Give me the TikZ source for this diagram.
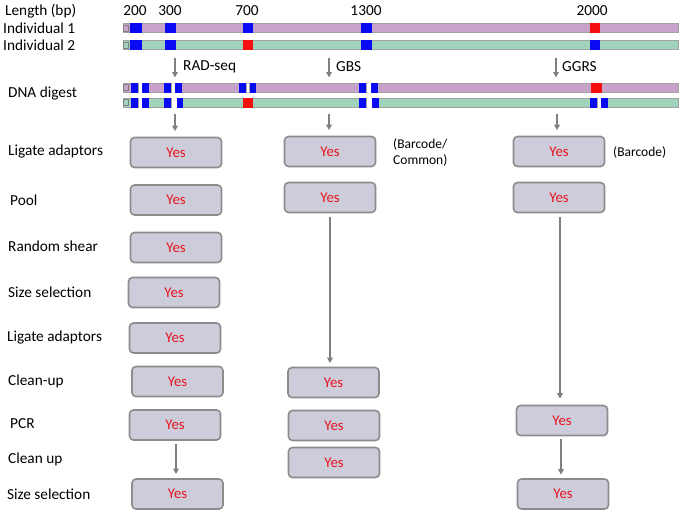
\documentclass[tikz,border=0pt]{standalone}
\usepackage{fontspec}
\setmainfont{Carlito}
\usetikzlibrary{arrows.meta}
\definecolor{pinkbar}{HTML}{C9A2CB}
\definecolor{greenbar}{HTML}{9FD3BB}
\definecolor{barline}{HTML}{A3A3A3}
\definecolor{boxfill}{HTML}{CDCCDB}
\definecolor{boxline}{HTML}{8C8C8C}
\definecolor{yesred}{HTML}{E8141E}
\definecolor{arrowgray}{HTML}{7F7F7F}
\definecolor{cutblue}{HTML}{0A0AF5}
\definecolor{cutred}{HTML}{F51010}
% segment: #1 y-top, #2 y-bottom, #3 x-left, #4 x-right, #5 fill colour
\newcommand\dnaseg[5]{\draw[draw=barline, fill=#5, line width=1pt] (#3,#1) rectangle (#4,#2);}
% cut block: #1 y-top, #2 y-bottom, #3 x-left, #4 x-right, #5 colour
\newcommand\dnacut[5]{\fill[#5] (#3,#1-0.5) rectangle (#4,#2+0.5);}
\newcommand\dnaend[3]{\draw[draw=barline!80!black, fill=#3, line width=0.8pt] (123.8,#1+1.6) rectangle (128.6,#2-1.6);}
\begin{document}
\begin{tikzpicture}[x=1pt,y=-1pt,
  yesbox/.style={draw=boxline, line width=1.6pt, fill=boxfill, rounded corners=4pt,
    minimum width=91pt, minimum height=30pt, inner sep=0pt, text=yesred,
    font=\fontsize{14.8}{16}\selectfont},
  lbl/.style={anchor=west, inner sep=0pt, font=\fontsize{15.3}{17}\selectfont},
  note/.style={anchor=west, inner sep=0pt, align=left, font=\fontsize{13.5}{16}\selectfont},
  num/.style={inner sep=0pt, font=\fontsize{15.3}{17}\selectfont},
  flow/.style={draw=arrowgray, line width=1.6pt, -{Triangle[length=5.5pt,width=5.5pt]}}
]
\useasboundingbox (0,0) rectangle (684,514);

% ---------- header ----------
\node[lbl] (lenlbl) at (5,11) {Length (bp)};
\node[num] (n200) at (135,11) {200};
\node[num] (n300) at (170,11) {300};
\node[num] (n700) at (247,11) {700};
\node[num] (n1300) at (366,11) {1300};
\node[num] (n2000) at (592,11) {2000};
\node[lbl] (ind1) at (3,28) {Individual 1};
\node[lbl] (ind2) at (3,45.5) {Individual 2};
\node[lbl] (dnalbl) at (8,94) {DNA digest};

% ---------- individual bars ----------
\dnaseg{23.5}{32.5}{123}{678}{pinkbar}
\dnaend{23.5}{32.5}{pinkbar}
\dnacut{23.5}{32.5}{130}{142}{cutblue}
\dnacut{23.5}{32.5}{165}{176}{cutblue}
\dnacut{23.5}{32.5}{243}{253}{cutblue}
\dnacut{23.5}{32.5}{361}{372}{cutblue}
\dnacut{23.5}{32.5}{590}{600}{cutred}

\dnaseg{40.5}{49.5}{123}{678}{greenbar}
\dnaend{40.5}{49.5}{greenbar}
\dnacut{40.5}{49.5}{130}{142}{cutblue}
\dnacut{40.5}{49.5}{165}{176}{cutblue}
\dnacut{40.5}{49.5}{243}{253}{cutred}
\dnacut{40.5}{49.5}{361}{372}{cutblue}
\dnacut{40.5}{49.5}{590}{600}{cutblue}

% ---------- digest row 1 ----------
\dnaseg{83}{92}{123}{138}{pinkbar}
\dnaend{83}{92}{pinkbar}
\dnacut{83}{92}{131}{138}{cutblue}
\dnaseg{83}{92}{142}{171}{pinkbar}
\dnacut{83}{92}{142}{149}{cutblue}
\dnacut{83}{92}{164}{171}{cutblue}
\dnaseg{83}{92}{175}{246}{pinkbar}
\dnacut{83}{92}{175}{182}{cutblue}
\dnacut{83}{92}{239}{246}{cutblue}
\dnaseg{83}{92}{249.5}{366}{pinkbar}
\dnacut{83}{92}{249.5}{256}{cutblue}
\dnacut{83}{92}{359}{366}{cutblue}
\dnaseg{83}{92}{371}{678}{pinkbar}
\dnacut{83}{92}{371}{378}{cutblue}
\dnacut{83}{92}{591}{602}{cutred}

% ---------- digest row 2 ----------
\dnaseg{98}{107}{123}{138}{greenbar}
\dnaend{98}{107}{greenbar}
\dnacut{98}{107}{131}{138}{cutblue}
\dnaseg{98}{107}{142}{171}{greenbar}
\dnacut{98}{107}{142}{149}{cutblue}
\dnacut{98}{107}{164}{171}{cutblue}
\dnaseg{98}{107}{177}{366}{greenbar}
\dnacut{98}{107}{177}{183}{cutblue}
\dnacut{98}{107}{243}{253}{cutred}
\dnacut{98}{107}{359}{366}{cutblue}
\dnaseg{98}{107}{372}{597}{greenbar}
\dnacut{98}{107}{372}{379}{cutblue}
\dnacut{98}{107}{590}{597}{cutblue}
\dnaseg{98}{107}{601}{678}{greenbar}
\dnacut{98}{107}{601}{608}{cutblue}

% ---------- method arrows ----------
\coordinate (radA) at (175,58);  \coordinate (radB) at (175,77.5);
\coordinate (gbsA) at (329,58);  \coordinate (gbsB) at (329,77.5);
\coordinate (ggrA) at (556,58);  \coordinate (ggrB) at (556,77.5);
\draw[flow] (radA) -- (radB);
\draw[flow] (gbsA) -- (gbsB);
\draw[flow] (ggrA) -- (ggrB);
\node[lbl] (radlbl) at (183,67) {RAD-seq};
\node[lbl] (gbslbl) at (336,67) {GBS};
\node[lbl] (ggrlbl) at (562,67) {GGRS};

% ---------- step labels ----------
\node[lbl] (s1) at (8,152) {Ligate adaptors};
\node[lbl] (s2) at (10,200) {Pool};
\node[lbl] (s3) at (8,246) {Random shear};
\node[lbl] (s4) at (8,292) {Size selection};
\node[lbl] (s5) at (7,337) {Ligate adaptors};
\node[lbl] (s6) at (8,381) {Clean-up};
\node[lbl] (s7) at (10,424) {PCR};
\node[lbl] (s8) at (8,459) {Clean up};
\node[lbl] (s9) at (7,494) {Size selection};

% ---------- column 1 (RAD-seq) ----------
\node[yesbox] (a1) at (176,152.5) {Yes};
\node[yesbox] (a2) at (176,200) {Yes};
\node[yesbox] (a3) at (176,247.5) {Yes};
\node[yesbox] (a4) at (174,292.5) {Yes};
\node[yesbox] (a5) at (175,338) {Yes};
\node[yesbox] (a6) at (177.5,381.5) {Yes};
\node[yesbox] (a7) at (175,425) {Yes};
\node[yesbox] (a9) at (177.5,494) {Yes};

% ---------- column 2 (GBS) ----------
\node[yesbox] (b1) at (330,151.5) {Yes};
\node[yesbox] (b2) at (330,197.5) {Yes};
\node[yesbox] (b6) at (333.5,382.5) {Yes};
\node[yesbox] (b7) at (334,425.5) {Yes};
\node[yesbox] (b8) at (334,462.5) {Yes};

% ---------- column 3 (GGRS) ----------
\node[yesbox] (c1) at (559,151.5) {Yes};
\node[yesbox] (c2) at (559,197.5) {Yes};
\node[yesbox] (c7) at (562,420.5) {Yes};
\node[yesbox] (c9) at (563,494) {Yes};

\node[note] (bcnote) at (393,152) {(Barcode/\\Common)};
\node[note] (bc3note) at (613,152) {(Barcode)};

% ---------- digest-to-ligation arrows ----------
\coordinate (d1) at (175,114);
\coordinate (d2) at (329,114);
\coordinate (d3) at (557,114);
\draw[flow, shorten >=5.5pt] (d1) -- (d1 |- a1.north);
\draw[flow, shorten >=5.5pt] (d2) -- (d2 |- b1.north);
\draw[flow, shorten >=5.5pt] (d3) -- (d3 |- c1.north);

% ---------- flow arrows ----------
\draw[flow, shorten <=4pt, shorten >=3.5pt] (b2.south) -- (b2.south |- b6.north);
\draw[flow, shorten <=4pt, shorten >=6pt] ([xshift=1pt]c2.south) -- ([xshift=1pt]c2.south |- c7.north);
\draw[flow, shorten <=3.5pt, shorten >=4pt] ([xshift=1pt]a7.south) -- ([xshift=1pt]a7.south |- a9.north);
\draw[flow, shorten <=3pt, shorten >=3.5pt] ([xshift=-1pt]c7.south) -- ([xshift=-1pt]c7.south |- c9.north);
\end{tikzpicture}
\end{document}
